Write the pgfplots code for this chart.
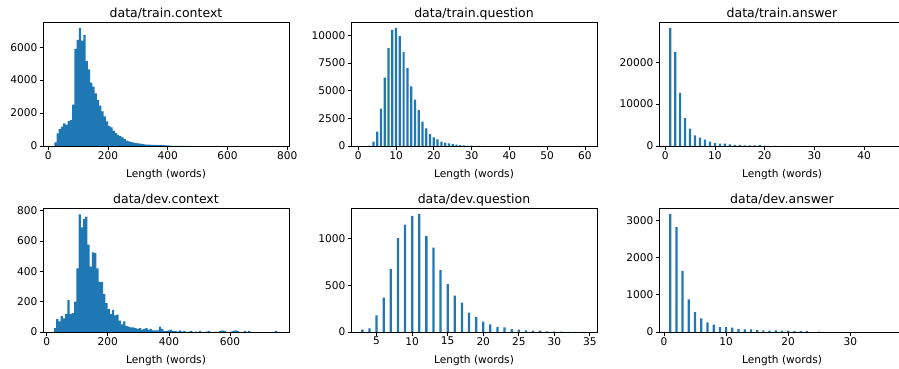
\documentclass[border=0pt]{standalone}
\usepackage{fontspec}
\setmainfont{DejaVu Sans}
\usepackage{pgfplots}
\pgfplotsset{compat=1.18}
\definecolor{mplblue}{HTML}{1F77B4}
\pgfplotsset{
  mplax/.style={
    scale only axis, width=246pt, height=124pt, anchor=south west,
    axis on top,
    axis line style={line width=0.8pt, black},
    tick align=outside, tick pos=left,
    major tick length=3.5pt,
    tick style={line width=0.8pt, black},
    ticklabel style={font=\fontsize{10.6}{12}\selectfont},
    xticklabel style={inner sep=1.5pt},
    yticklabel style={inner sep=2pt},
    xlabel={Length (words)},
    label style={font=\fontsize{10.6}{12}\selectfont},
    xlabel style={at={(axis description cs:0.5,0)}, anchor=base, yshift=-31pt},
    title style={font=\fontsize{12.5}{14}\selectfont, anchor=base, yshift=-1.5pt},
    ymin=0,
    scaled ticks=false,
    /pgf/number format/assume math mode=true,
    /pgf/number format/1000 sep={},
  },
  histc/.style={const plot, fill=mplblue, draw=none},
}
\begin{document}
\begin{tikzpicture}
% ---------------- train.context
\begin{axis}[mplax, at={(43pt,222pt)}, title={data/train.context},
  xmin=-17.7, xmax=805.7, ymax=7530, xtick={0,200,400,600,800}, ytick={0,2000,4000,6000}]
\addplot[histc] coordinates {
(20,220)(27.5,770)(35,1030)(42.5,1170)(50,1370)(57.5,1300)(65,1510)(72.5,1570)(80,2520)(87.5,5900)
(95,6450)(102.5,7170)(110,6400)(117.5,6750)(125,5150)(132.5,4650)(140,3850)(147.5,3600)(155,3200)(162.5,2800)
(170,2450)(177.5,2100)(185,1800)(192.5,1500)(200,1220)(207.5,1130)(215,930)(222.5,780)(230,680)(237.5,600)
(245,520)(252.5,420)(260,330)(267.5,280)(275,240)(282.5,210)(290,180)(297.5,160)(305,150)(312.5,120)
(320,100)(327.5,90)(335,80)(342.5,75)(350,65)(357.5,70)(365,60)(372.5,65)(380,60)(387.5,45)
(395,35)(402.5,20)(410,15)(417.5,12)(425,10)(432.5,8)(440,6)(447.5,5)(455,4)(462.5,3)(470,3)(477.5,3)
} \closedcycle;
\end{axis}
% ---------------- train.question
\begin{axis}[mplax, at={(351pt,222pt)}, title={data/train.question},
  xmin=-1.93, xmax=63.2, ymax=11193, xtick={0,10,...,60}, ytick={0,2500,5000,7500,10000}]
\addplot[ybar, bar width=0.59, bar shift=0pt, fill=mplblue, draw=none] coordinates {
(3,40)(4,390)(5,1290)(6,3380)(7,6170)(8,8830)(9,10480)(10,10660)(11,9910)(12,8470)(13,7040)(14,5390)
(15,4190)(16,3230)(17,2190)(18,1590)(19,1080)(20,780)(21,600)(22,390)(23,300)(24,240)(25,180)(26,120)
(27,90)(28,60)(29,40)(30,30)(31,20)(32,15)(33,10)
};
\end{axis}
% ---------------- train.answer
\begin{axis}[mplax, at={(659pt,222pt)}, title={data/train.answer},
  xmin=-1.25, xmax=48.25, ymax=29580, xtick={0,10,...,40}, ytick={0,10000,20000}]
\addplot[ybar, bar width=0.45, bar shift=0pt, fill=mplblue, draw=none] coordinates {
(1,28170)(2,22380)(3,12700)(4,6670)(5,4130)(6,2540)(7,1980)(8,1510)(9,1030)(10,710)(11,560)(12,560)
(13,400)(14,240)(15,240)(16,160)(17,160)(18,160)(19,200)(20,80)(21,60)(22,50)(23,40)(24,30)(25,25)
};
\end{axis}
% ---------------- dev.context
\begin{axis}[mplax, at={(43pt,36pt)}, title={data/dev.context},
  xmin=-12, xmax=793, ymax=817, xtick={0,200,400,600}, ytick={0,200,400,600,800}]
\addplot[histc] coordinates {
(24,25)(31.3,85)(38.6,70)(45.9,105)(53.2,90)(60.5,120)(67.8,210)(75.1,120)(82.4,125)(89.7,200)
(97,420)(104.3,775)(111.6,690)(118.9,745)(126.2,760)(133.5,575)(140.8,430)(148.1,525)(155.4,520)(162.7,420)
(170,330)(177.3,330)(184.6,250)(191.9,190)(199.2,150)(206.5,120)(213.8,145)(221.1,110)(228.4,115)(235.7,75)
(243,50)(250.3,70)(257.6,40)(264.9,35)(272.2,30)(279.5,30)(286.8,25)(294.1,20)(301.4,25)(308.7,15)
(316,20)(323.3,25)(330.6,15)(337.9,20)(345.2,10)(352.5,10)(359.8,10)(367.1,35)(374.4,20)(381.7,5)
(389,8)(396.3,10)(403.6,15)(410.9,5)(418.2,8)(425.5,3)(432.8,10)(440.1,3)(447.4,8)(454.7,0)
(462,3)(469.3,8)(476.6,0)(483.9,3)(491.2,0)(498.5,8)(505.8,0)(513.1,0)(520.4,3)(527.7,8)
(535,0)(542.3,0)(549.6,3)(556.9,0)(564.2,5)(571.5,10)(578.8,8)(586.1,0)(593.4,0)(600.7,3)
(608,8)(615.3,10)(622.6,5)(629.9,0)(637.2,0)(644.5,8)(651.8,0)(659.1,8)(666.4,0)(673.7,0)
(681,0)(688.3,0)(695.6,0)(702.9,0)(710.2,0)(717.5,0)(724.8,0)(732.1,0)(739.4,0)(746.7,8)(754,8)
} \closedcycle;
\end{axis}
% ---------------- dev.question
\begin{axis}[mplax, at={(351pt,36pt)}, title={data/dev.question},
  xmin=1.4, xmax=36.0, ymax=1329, xtick={5,10,...,35}, ytick={0,500,1000}]
\addplot[ybar, bar width=0.32, bar shift=0pt, fill=mplblue, draw=none] coordinates {
(3,25)(4,40)(5,177)(6,369)(7,674)(8,1007)(9,1152)(10,1245)(11,1266)(12,1028)(13,904)(14,663)
(15,514)(16,390)(17,316)(18,209)(19,163)(20,110)(21,82)(22,53)(23,50)(24,32)(25,25)(26,18)
(27,14)(28,14)(29,7)(30,4)(31,3)(32,2)(33,1)(34,1)
};
\end{axis}
% ---------------- dev.answer
\begin{axis}[mplax, at={(659pt,36pt)}, title={data/dev.answer},
  xmin=-0.8, xmax=38.8, ymax=3339, xtick={0,10,20,30}, ytick={0,1000,2000,3000}]
\addplot[ybar, bar width=0.36, bar shift=0pt, fill=mplblue, draw=none] coordinates {
(1,3180)(2,2823)(3,1647)(4,882)(5,534)(6,365)(7,258)(8,196)(9,134)(10,134)(11,116)(12,80)
(13,71)(14,71)(15,53)(16,45)(17,36)(18,45)(19,36)(20,36)(21,27)(22,27)(23,27)(25,8)(27,5)
};
\end{axis}
\pgfresetboundingbox
\path[use as bounding box] (0pt,0pt) rectangle (899pt,368pt);
\end{tikzpicture}
\end{document}
